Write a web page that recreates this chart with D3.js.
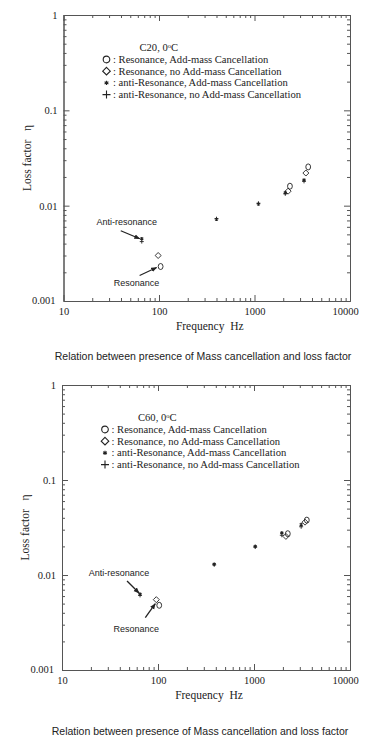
<!DOCTYPE html>
<html>
<head>
<meta charset="utf-8">
<script src="https://cdn.jsdelivr.net/npm/d3@7"></script>
<style>
html,body{margin:0;padding:0;background:#fff;}
svg{display:block;}
</style>
</head>
<body>
<svg id="chart" width="378" height="743"></svg>
<script>
// ---------- data ----------
const xMajorTicks = [10, 100, 1000, 10000];
const yMajorTicks = [0.001, 0.01, 0.1, 1];
const xTickLabels = ["10", "100", "1000", "10000"];
const yTickLabels = ["0.001", "0.01", "0.1", "1"];

const legendLabels = [
  ": Resonance, Add-mass Cancellation",
  ": Resonance, no Add-mass Cancellation",
  ": anti-Resonance, Add-mass Cancellation",
  ": anti-Resonance, no Add-mass Cancellation"
];

// C20, 0°C  [frequency Hz, loss factor]
const c20ResAdd   = [[104, 0.0023], [2350, 0.0160], [3650, 0.0255]];
const c20ResNo    = [[98, 0.0030], [2250, 0.0142], [3450, 0.0220]];
const c20AntiAdd  = [[66, 0.0045], [400, 0.0072], [1100, 0.0104], [2100, 0.0137], [3300, 0.0186]];
const c20AntiNo   = [[66, 0.0042], [400, 0.0073], [1100, 0.0106], [2100, 0.0133], [3300, 0.0180]];

// C60, 0°C
const c60ResAdd   = [[103, 0.0048], [2250, 0.0272], [3550, 0.0378]];
const c60ResNo    = [[96, 0.0055], [2150, 0.0255], [3400, 0.0360]];
const c60AntiAdd  = [[65, 0.0063], [385, 0.0130], [1030, 0.0200], [1950, 0.0278], [3100, 0.0340]];
const c60AntiNo   = [[65, 0.0061], [385, 0.0128], [1030, 0.0197], [1950, 0.0262], [3100, 0.0322]];

const caption = "Relation between presence of Mass cancellation and loss factor";

// ---------- drawing ----------
const svg = d3.select("#chart");
const INK = "#222";
const AXIS = "#555";

svg.append("defs").append("marker")
  .attr("id", "arrow").attr("viewBox", "0 0 10 10")
  .attr("refX", 9).attr("refY", 5)
  .attr("markerWidth", 6).attr("markerHeight", 6)
  .attr("markerUnits", "userSpaceOnUse")
  .attr("orient", "auto")
  .append("path").attr("d", "M0,1 L10,5 L0,9 Z").attr("fill", INK);

function minorOf(majors) {
  const out = [];
  for (let i = 0; i < majors.length - 1; i++)
    for (let k = 2; k <= 9; k++) out.push(+(majors[i] * k).toPrecision(3));
  return out;
}

function diamondPath(r) {
  const p = d3.path();
  p.moveTo(0, -r); p.lineTo(r, 0); p.lineTo(0, r); p.lineTo(-r, 0); p.closePath();
  return p.toString();
}
function plusPath(r) {
  const p = d3.path();
  p.moveTo(-r, 0); p.lineTo(r, 0); p.moveTo(0, -r); p.lineTo(0, r);
  return p.toString();
}
function starPath(r) {
  const p = d3.path();
  for (let i = 0; i < 3; i++) {
    const a = Math.PI / 2 + i * Math.PI / 3;
    p.moveTo(-r * Math.cos(a), -r * Math.sin(a));
    p.lineTo(r * Math.cos(a), r * Math.sin(a));
  }
  return p.toString();
}

function drawChart(cfg) {
  const g = svg.append("g");
  const x = d3.scaleLog().domain([10, 10000]).range([cfg.x0, cfg.x1]);
  const y = d3.scaleLog().domain([0.001, 1]).range([cfg.y1, cfg.y0]);
  const xMinor = minorOf(xMajorTicks), yMinor = minorOf(yMajorTicks);

  function styleAxis(sel) {
    sel.selectAll("path.domain").attr("stroke", AXIS).attr("stroke-width", 1);
    sel.selectAll(".tick line").attr("stroke", AXIS).attr("stroke-width", 1);
    sel.selectAll(".tick text").attr("fill", INK)
      .attr("font-family", "'Liberation Serif', 'Times New Roman', serif")
      .attr("font-size", 10.5);
  }
  // bottom
  g.append("g").attr("transform", `translate(0,${cfg.y1})`)
    .call(d3.axisBottom(x).tickValues(xMinor).tickSize(-3).tickSizeOuter(0).tickFormat(""))
    .call(styleAxis);
  const bx = g.append("g").attr("transform", `translate(0,${cfg.y1})`)
    .call(d3.axisBottom(x).tickValues(xMajorTicks).tickSize(-6).tickSizeOuter(0)
      .tickPadding(7).tickFormat((d, i) => xTickLabels[i]))
    .call(styleAxis);
  bx.selectAll(".tick text").filter((d, i) => i === xMajorTicks.length - 1).attr("dx", -5);
  // top
  g.append("g").attr("transform", `translate(0,${cfg.y0})`)
    .call(d3.axisTop(x).tickValues(xMinor).tickSize(-3).tickSizeOuter(0).tickFormat(""))
    .call(styleAxis);
  g.append("g").attr("transform", `translate(0,${cfg.y0})`)
    .call(d3.axisTop(x).tickValues(xMajorTicks).tickSize(-6).tickSizeOuter(0).tickFormat(""))
    .call(styleAxis);
  // left
  g.append("g").attr("transform", `translate(${cfg.x0},0)`)
    .call(d3.axisLeft(y).tickValues(yMinor).tickSize(-3).tickSizeOuter(0).tickFormat(""))
    .call(styleAxis);
  const ly = g.append("g").attr("transform", `translate(${cfg.x0},0)`)
    .call(d3.axisLeft(y).tickValues(yMajorTicks).tickSize(-6).tickSizeOuter(0)
      .tickPadding(6).tickFormat((d, i) => yTickLabels[i]))
    .call(styleAxis);
  ly.selectAll(".tick text").filter((d, i) => i === 0).attr("dx", -2).attr("dy", "0.2em");
  // right
  g.append("g").attr("transform", `translate(${cfg.x1},0)`)
    .call(d3.axisRight(y).tickValues(yMinor).tickSize(-3).tickSizeOuter(0).tickFormat(""))
    .call(styleAxis);
  g.append("g").attr("transform", `translate(${cfg.x1},0)`)
    .call(d3.axisRight(y).tickValues(yMajorTicks).tickSize(-6).tickSizeOuter(0).tickFormat(""))
    .call(styleAxis);

  // axis titles
  g.append("text").attr("x", (cfg.x0 + cfg.x1) / 2 + 3).attr("y", cfg.y1 + 29)
    .attr("text-anchor", "middle").attr("fill", INK)
    .attr("font-family", "'Liberation Serif', serif").attr("font-size", 11.5)
    .attr("xml:space", "preserve")
    .text("Frequency  Hz");
  g.append("text")
    .attr("transform", `translate(${cfg.x0 - 33},${(cfg.y0 + cfg.y1) / 2}) rotate(-90)`)
    .attr("text-anchor", "middle").attr("fill", INK)
    .attr("font-family", "'Liberation Serif', serif").attr("font-size", 11.5)
    .attr("xml:space", "preserve")
    .text("Loss factor   η");

  // legend
  const lg = g.append("g").attr("transform", `translate(${cfg.x0 + 43},${cfg.y0 + 36})`);
  const tTitle = lg.append("text").attr("x", 33).attr("y", 0).attr("fill", INK)
    .attr("font-family", "'Liberation Serif', serif").attr("font-size", 10.6);
  tTitle.append("tspan").text(cfg.title + ", 0");
  tTitle.append("tspan").attr("dy", -3.5).attr("font-size", 6.5).text("o");
  tTitle.append("tspan").attr("dy", 3.5).text("C");
  const shapes = ["circle", "diamond", "star", "plus"];
  legendLabels.forEach((lab, i) => {
    const row = lg.append("g").attr("transform", `translate(0,${12 + i * 11.7})`);
    drawMarker(row, shapes[i], 0, -3.5, true);
    row.append("text").attr("x", 6.5).attr("y", 0).attr("fill", INK)
      .attr("font-family", "'Liberation Serif', serif").attr("font-size", 10.6)
      .text(lab);
  });

  // data marks
  const series = [
    [cfg.antiNo, "plus"], [cfg.antiAdd, "star"], [cfg.resNo, "diamond"], [cfg.resAdd, "circle"]
  ];
  series.forEach(([data, shape]) => {
    const sg = g.append("g");
    data.forEach(d => drawMarker(sg, shape, x(d[0]), y(d[1]), false));
  });

  // annotations
  cfg.notes.forEach(n => {
    const tx = x(n.target[0]) + n.tip[0], ty = y(n.target[1]) + n.tip[1];
    g.append("line")
      .attr("x1", tx + n.tail[0]).attr("y1", ty + n.tail[1])
      .attr("x2", tx).attr("y2", ty)
      .attr("stroke", INK).attr("stroke-width", 1.3)
      .attr("marker-end", "url(#arrow)");
    g.append("text").attr("x", tx + n.label[0]).attr("y", ty + n.label[1])
      .attr("text-anchor", "middle").attr("fill", INK)
      .attr("font-family", "'Liberation Sans', Arial, sans-serif").attr("font-size", 9)
      .text(n.text);
  });

  // caption
  g.append("text").attr("x", cfg.capX).attr("y", cfg.capY)
    .attr("text-anchor", "middle").attr("fill", INK)
    .attr("font-family", "'Liberation Sans', Arial, sans-serif").attr("font-size", 10.5)
    .text(caption);
}

function drawMarker(sel, shape, cx, cy, legend) {
  if (shape === "circle") {
    sel.append("ellipse").attr("cx", cx).attr("cy", cy)
      .attr("rx", legend ? 3.3 : 2.4).attr("ry", legend ? 3.4 : 3)
      .attr("fill", "none").attr("stroke", INK).attr("stroke-width", legend ? 1.1 : 0.9);
  } else if (shape === "diamond") {
    sel.append("path").attr("transform", `translate(${cx},${cy})`)
      .attr("d", diamondPath(legend ? 3.8 : 3))
      .attr("fill", "none").attr("stroke", INK).attr("stroke-width", legend ? 1.1 : 0.9);
  } else if (shape === "star") {
    sel.append("path").attr("transform", `translate(${cx},${cy})`)
      .attr("d", starPath(legend ? 2.2 : 1.8))
      .attr("fill", "none").attr("stroke", INK).attr("stroke-width", 1.1);
  } else {
    sel.append("path").attr("transform", `translate(${cx},${cy})`)
      .attr("d", plusPath(legend ? 4 : 2))
      .attr("fill", "none").attr("stroke", INK).attr("stroke-width", legend ? 1.1 : 0.9);
  }
}

drawChart({
  title: "C20", x0: 63.5, x1: 350, y0: 15, y1: 301,
  resAdd: c20ResAdd, resNo: c20ResNo, antiAdd: c20AntiAdd, antiNo: c20AntiNo,
  notes: [
    { text: "Anti-resonance", target: c20AntiAdd[0], tip: [-2, 0], tail: [-19, -8], label: [-13, -14] },
    { text: "Resonance", target: c20ResAdd[0], tip: [-4, 1], tail: [-17, 8], label: [-20, 18] }
  ],
  capX: 203, capY: 360
});
drawChart({
  title: "C60", x0: 62, x1: 350, y0: 385, y1: 670,
  resAdd: c60ResAdd, resNo: c60ResNo, antiAdd: c60AntiAdd, antiNo: c60AntiNo,
  notes: [
    { text: "Anti-resonance", target: c60AntiAdd[0], tip: [-1, -1], tail: [-12, -12], label: [-20, -17] },
    { text: "Resonance", target: c60ResNo[0], tip: [-1, 4], tail: [-10, 14], label: [-19, 28] }
  ],
  capX: 200, capY: 735
});
</script>
</body>
</html>
